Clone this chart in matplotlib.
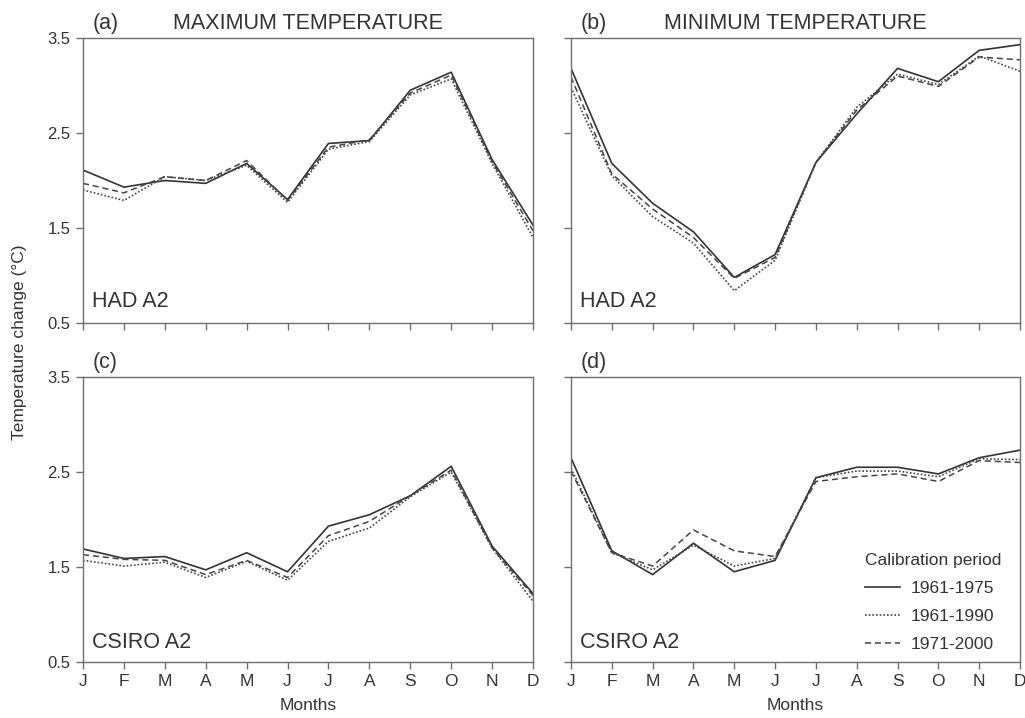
import matplotlib
matplotlib.use("Agg")
import matplotlib.pyplot as plt

plt.rcParams['font.family'] = ['Liberation Sans', 'DejaVu Sans']

months = ['J', 'F', 'M', 'A', 'M', 'J', 'J', 'A', 'S', 'O', 'N', 'D']
periods = ['1961-1975', '1961-1990', '1971-2000']

# (a) HAD A2, maximum temperature
had_tmax_6175 = [2.11, 1.93, 2.00, 1.97, 2.18, 1.80, 2.39, 2.42, 2.95, 3.14, 2.22, 1.53]
had_tmax_6190 = [1.90, 1.79, 2.04, 2.00, 2.16, 1.77, 2.33, 2.41, 2.90, 3.07, 2.18, 1.40]
had_tmax_7100 = [1.97, 1.87, 2.04, 2.00, 2.21, 1.79, 2.35, 2.43, 2.92, 3.11, 2.20, 1.47]

# (b) HAD A2, minimum temperature
had_tmin_6175 = [3.18, 2.18, 1.76, 1.46, 0.98, 1.22, 2.19, 2.70, 3.18, 3.04, 3.37, 3.43]
had_tmin_6190 = [2.98, 2.05, 1.62, 1.34, 0.84, 1.16, 2.19, 2.77, 3.12, 3.01, 3.31, 3.15]
had_tmin_7100 = [3.09, 2.07, 1.70, 1.40, 0.97, 1.19, 2.19, 2.74, 3.10, 2.99, 3.30, 3.27]

# (c) CSIRO A2, maximum temperature
csiro_tmax_6175 = [1.69, 1.59, 1.61, 1.47, 1.65, 1.45, 1.93, 2.05, 2.25, 2.56, 1.72, 1.22]
csiro_tmax_6190 = [1.57, 1.51, 1.55, 1.39, 1.56, 1.36, 1.77, 1.91, 2.24, 2.50, 1.70, 1.14]
csiro_tmax_7100 = [1.63, 1.58, 1.57, 1.42, 1.57, 1.39, 1.83, 1.98, 2.25, 2.52, 1.70, 1.20]

# (d) CSIRO A2, minimum temperature
csiro_tmin_6175 = [2.65, 1.67, 1.42, 1.75, 1.45, 1.57, 2.44, 2.55, 2.55, 2.48, 2.65, 2.73]
csiro_tmin_6190 = [2.54, 1.65, 1.47, 1.73, 1.51, 1.59, 2.44, 2.51, 2.51, 2.45, 2.64, 2.63]
csiro_tmin_7100 = [2.51, 1.65, 1.51, 1.89, 1.67, 1.61, 2.40, 2.45, 2.48, 2.40, 2.62, 2.60]

panels = [
    ('(a)', 'MAXIMUM TEMPERATURE', 'HAD A2', [had_tmax_6175, had_tmax_6190, had_tmax_7100]),
    ('(b)', 'MINIMUM TEMPERATURE', 'HAD A2', [had_tmin_6175, had_tmin_6190, had_tmin_7100]),
    ('(c)', '', 'CSIRO A2', [csiro_tmax_6175, csiro_tmax_6190, csiro_tmax_7100]),
    ('(d)', '', 'CSIRO A2', [csiro_tmin_6175, csiro_tmin_6190, csiro_tmin_7100]),
]

styles = [
    dict(linestyle='-', color='#333333', lw=1.2),
    dict(linestyle=(0, (1, 1.2)), color='#444444', lw=1.2),
    dict(linestyle=(0, (4, 2.5)), color='#444444', lw=1.1),
]

txt = '#333333'
W, H = 1025, 718
fig = plt.figure(figsize=(W / 100, H / 100), dpi=100)

# axes boxes in pixels: (left, top, right, bottom)
boxes = [(83, 38, 533, 323), (571, 38, 1020, 323),
         (83, 377, 533, 662), (571, 377, 1020, 662)]

x = list(range(len(months)))
for i, (box, (tag, title, model, series)) in enumerate(zip(boxes, panels)):
    l, t, r, b = box
    ax = fig.add_axes([l / W, 1 - b / H, (r - l) / W, (b - t) / H])
    for vals, st, lab in zip(series, styles, periods):
        ax.plot(x, vals, label=lab, **st)
    ax.set_xlim(0, 11)
    ax.set_ylim(0.5, 3.5)
    ax.set_yticks([0.5, 1.5, 2.5, 3.5])
    ax.set_xticks(x)
    for s in ax.spines.values():
        s.set_color('#707070')
        s.set_linewidth(1.0)
    ax.tick_params(direction='out', length=5, width=1, color='#707070',
                   labelcolor=txt, labelsize=12.5, pad=4)
    if i < 2:
        ax.set_xticklabels([])
    else:
        ax.set_xticklabels(months, fontsize=12.5)
        ax.set_xlabel('Months', fontsize=12.5, color=txt, labelpad=6)
    if i % 2 == 1:
        ax.set_yticklabels([])
    else:
        ax.set_yticklabels(['0.5', '1.5', '2.5', '3.5'], fontsize=12)

    ax.text(0.022, 1.015, tag, transform=ax.transAxes, fontsize=15.5,
            color=txt, ha='left', va='bottom')
    if title:
        ax.text(0.5, 1.015, title, transform=ax.transAxes, fontsize=15.5,
                color=txt, ha='center', va='bottom')
    ax.text(0.02, 0.075 if i < 2 else 0.068, model, transform=ax.transAxes,
            fontsize=15.5, color=txt, ha='left', va='center')

    if i == 3:
        leg = ax.legend(loc='lower left', bbox_to_anchor=(0.655, 0.034),
                        frameon=False, title='Calibration period',
                        fontsize=12.5, title_fontsize=12.5,
                        handlelength=2.0, handletextpad=0.6,
                        labelspacing=0.75, borderpad=0, borderaxespad=0)
        leg._legend_box.align = 'left'
        leg.get_title().set_color(txt)
        for tx in leg.get_texts():
            tx.set_color(txt)

fig.text(20 / W, 1 - 342 / H, 'Temperature change (°C)', rotation=90,
         fontsize=12.5, color=txt, ha='center', va='center')

fig.savefig('out.png', dpi=100)
